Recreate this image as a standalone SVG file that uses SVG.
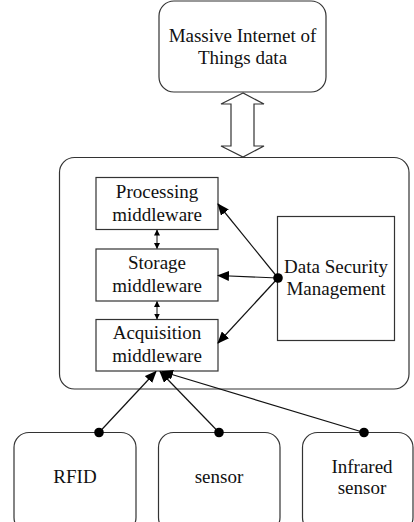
<svg xmlns="http://www.w3.org/2000/svg" width="414" height="522" viewBox="0 0 414 522">
<style>
.box{fill:#fff;stroke:#333;stroke-width:1.2}
.t{font-family:"Liberation Serif","Times New Roman",serif;font-size:19px;fill:#111;text-anchor:middle}
.ln{stroke:#111;stroke-width:1.2;fill:none}
.thin{stroke:#111;stroke-width:1;fill:none}
</style>
<defs>
<marker id="ah" markerWidth="12" markerHeight="10" refX="11" refY="5" orient="auto" markerUnits="userSpaceOnUse">
<path d="M0,0 L12,5 L0,10 Z" fill="#000"/>
</marker>
<marker id="sa" markerWidth="6" markerHeight="6" refX="5.5" refY="3" orient="auto-start-reverse" markerUnits="userSpaceOnUse">
<path d="M0,0 L6,3 L0,6 Z" fill="#000"/>
</marker>
</defs>
<rect width="414" height="522" fill="#fff"/>
<g id="top">
<rect class="box" x="159" y="1" width="167" height="91" rx="15"/>
<text class="t" x="242.5" y="42">Massive Internet of</text>
<text class="t" x="242.5" y="64">Things data</text>
</g>
<g id="bigarrow">
<path class="box" d="M243,93 L221,104 L231,104 L231,146 L221,146 L243,157 L264,146 L254,146 L254,104 L264,104 Z"/>
</g>
<g id="middleware">
<rect class="box" x="59.5" y="157.5" width="349.5" height="231.5" rx="15"/>
</g>
<g id="processing">
<rect class="box" x="96" y="177.5" width="122" height="52"/>
<text class="t" x="157" y="198">Processing</text>
<text class="t" x="157" y="220.5">middleware</text>
</g>
<g id="storage">
<rect class="box" x="96" y="249" width="122" height="52"/>
<text class="t" x="157" y="269">Storage</text>
<text class="t" x="157" y="291.5">middleware</text>
</g>
<g id="acquisition">
<rect class="box" x="96" y="319.5" width="122" height="51.5"/>
<text class="t" x="157" y="339">Acquisition</text>
<text class="t" x="157" y="361.5">middleware</text>
</g>
<g id="security">
<rect class="box" x="277.5" y="216.5" width="117" height="124"/>
<text class="t" x="336" y="273">Data Security</text>
<text class="t" x="336" y="295">Management</text>
</g>
<g id="rfid">
<rect class="box" x="14" y="432.5" width="122" height="100" rx="15"/>
<text class="t" x="75" y="483">RFID</text>
</g>
<g id="sensor">
<rect class="box" x="158.5" y="432.5" width="121.5" height="100" rx="15"/>
<text class="t" x="219" y="483">sensor</text>
</g>
<g id="infrared">
<rect class="box" x="302.5" y="432.5" width="110.5" height="100" rx="15"/>
<text class="t" x="362" y="472.5">Infrared</text>
<text class="t" x="362" y="494">sensor</text>
</g>
<g id="connectors">
<line class="thin" x1="157" y1="230" x2="157" y2="248.5" marker-start="url(#sa)" marker-end="url(#sa)"/>
<line class="thin" x1="157" y1="301.5" x2="157" y2="319" marker-start="url(#sa)" marker-end="url(#sa)"/>
<line class="ln" x1="278" y1="278" x2="218" y2="204" marker-end="url(#ah)"/>
<line class="ln" x1="278" y1="278" x2="218" y2="275.5" marker-end="url(#ah)"/>
<line class="ln" x1="278" y1="278" x2="218" y2="343" marker-end="url(#ah)"/>
<circle cx="278" cy="278" r="4.8" fill="#000"/>
<line class="ln" x1="99" y1="432.5" x2="156" y2="371.5" marker-end="url(#ah)"/>
<line class="ln" x1="219" y1="432.5" x2="160" y2="371.5" marker-end="url(#ah)"/>
<line class="ln" x1="364" y1="432.5" x2="162" y2="371.5" marker-end="url(#ah)"/>
<circle cx="99" cy="432.5" r="4.8" fill="#000"/>
<circle cx="219" cy="432.5" r="4.8" fill="#000"/>
<circle cx="364" cy="432.5" r="4.8" fill="#000"/>
</g>
</svg>
